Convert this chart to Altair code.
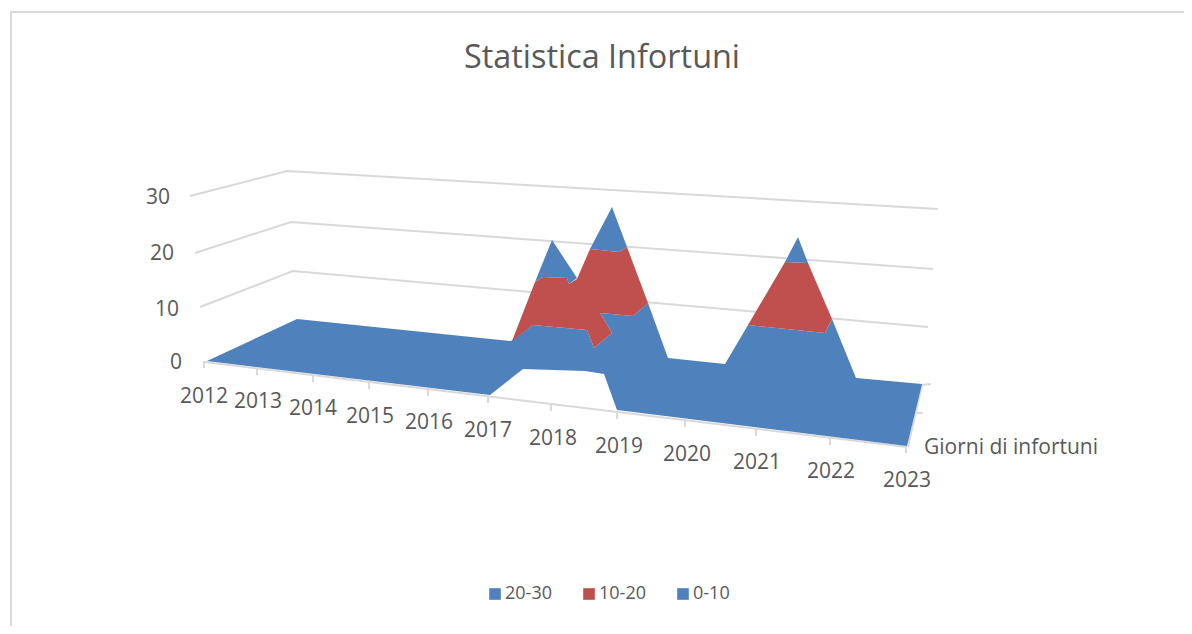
import altair as alt
import pandas as pd

# Outlines of the surface bands (screen-plane coordinates of the 3D view)
blue_low_x = [207, 297, 511, 533, 587, 594, 612, 600, 633, 648, 668, 725, 748, 825, 832, 856, 922, 907, 617, 604, 585, 523, 490]
blue_low_y = [361, 319, 341, 325, 330, 348, 333, 313, 316, 303, 358, 364, 325, 333, 319, 378, 384, 446, 410, 374, 371, 369, 395]
red_a_x = [512, 535, 543, 567, 569, 577, 590, 619, 627, 648, 633, 600, 612, 594, 587, 533]
red_a_y = [341, 282, 277, 278, 284, 279, 249, 252, 247, 303, 316, 313, 333, 348, 330, 325]
red_b_x = [748, 785, 808, 832, 825]
red_b_y = [325, 262, 263, 319, 333]
tip_a_x = [535, 552, 577, 569, 567, 543]
tip_a_y = [282, 240, 278, 284, 278, 277]
tip_b_x = [590, 612, 627, 619]
tip_b_y = [249, 207, 247, 252]
tip_c_x = [785, 798, 808]
tip_c_y = [262, 237, 263]

bands = [("0-10", "a", blue_low_x, blue_low_y), ("10-20", "b", red_a_x, red_a_y),
         ("10-20", "c", red_b_x, red_b_y), ("20-30", "d", tip_a_x, tip_a_y),
         ("20-30", "e", tip_b_x, tip_b_y), ("20-30", "f", tip_c_x, tip_c_y)]
rows = []
for band, shape, xs, ys in bands:
    closed_x, closed_y = xs + xs[:1], ys + ys[:1]
    for i, (px, py) in enumerate(zip(closed_x, closed_y)):
        rows.append(dict(band=band, shape=shape, i=i, x=px, y=py))
surface = pd.DataFrame(rows)

# Grid lines: back wall and side wall, front axis, side axis, ticks
grid_sets = [([190, 287, 938], [196, 171, 209]),
             ([195, 291, 933], [253, 222, 269]),
             ([200, 293, 928], [307, 271, 327]),
             ([204, 907], [362, 447]),
             ([931, 922, 908], [384, 385, 447]),
             ]
tick_x = [204, 257, 313, 369, 428, 488, 551, 617, 685, 756, 830, 906, 917]
tick_y = [361, 369, 376, 383, 390, 396, 404, 411, 420, 429, 438, 446, 413]
tick_x2 = [204, 257, 313, 369, 428, 488, 551, 617, 685, 756, 830, 906, 923]
tick_y2 = [368, 375, 382, 389, 396, 403, 411, 419, 427, 436, 445, 453, 413]
rows = []
for k, (xs, ys) in enumerate(grid_sets):
    for i, (px, py) in enumerate(zip(xs, ys)):
        rows.append(dict(k=k, i=i, x=px, y=py))
grid = pd.DataFrame(rows)
ticks = pd.DataFrame(dict(x=tick_x, y=tick_y, x2=tick_x2, y2=tick_y2))

years = ["2012", "2013", "2014", "2015", "2016", "2017", "2018", "2019", "2020", "2021", "2022", "2023"]
year_x = [204, 258, 313, 370, 429, 488, 553, 619, 687, 757, 831, 907]
year_y = [396, 401, 408, 416, 422, 430, 438, 446, 454, 462, 471, 480]
value_labels = ["30", "20", "10", "0"]
value_x = [158, 162, 167, 176]
value_y = [197, 253, 309, 362]

xs = alt.Scale(domain=[8, 1184], nice=False, zero=False)
ys = alt.Scale(domain=[626, 8], nice=False, zero=False)
X = alt.X("x:Q", scale=xs, axis=None)
Y = alt.Y("y:Q", scale=ys, axis=None)
TEXT = "#595959"
FONT = "Open Sans"

frame = pd.DataFrame(dict(x=[1184, 11, 11], y=[12, 12, 626], i=[0, 1, 2]))
frame_layer = alt.Chart(frame).mark_line(color="#D9D9D9", strokeWidth=2).encode(x=X, y=Y, order="i:Q")

grid_layer = alt.Chart(grid).mark_line(color="#D9D9D9", strokeWidth=2).encode(x=X, y=Y, detail="k:N", order="i:Q")
tick_layer = alt.Chart(ticks).mark_rule(color="#D9D9D9", strokeWidth=2).encode(x=X, y=Y, x2="x2:Q", y2="y2:Q")

surface_layer = alt.Chart(surface).mark_line(strokeWidth=0.5, stroke=None).encode(
    x=X, y=Y, detail="shape:N", order="i:Q",
    fill=alt.Fill("band:N",
                  scale=alt.Scale(domain=["20-30", "10-20", "0-10"], range=["#4F81BD", "#C0504D", "#4F81BD"]),
                  legend=alt.Legend(title=None, orient="none", legendX=478, legendY=577, direction="horizontal",
                                    columns=3, symbolType="square", symbolSize=135, symbolStrokeWidth=0,
                                    labelFont=FONT, labelFontSize=18, labelColor=TEXT,
                                    columnPadding=28, labelOffset=1)),
)


def labels(names, px, py, size):
    df = pd.DataFrame(dict(t=names, x=px, y=py))
    return alt.Chart(df).mark_text(font=FONT, fontSize=size, color=TEXT, baseline="middle", dy=1).encode(x=X, y=Y, text="t:N")


title_layer = labels(["Statistica Infortuni"], [602], [57], 32.4)
series_layer = alt.Chart(pd.DataFrame(dict(t=["Giorni di infortuni"], x=[924], y=[447]))).mark_text(
    font=FONT, fontSize=21, color=TEXT, baseline="middle", align="left", dy=1).encode(x=X, y=Y, text="t:N")

chart = alt.layer(frame_layer, grid_layer, tick_layer, surface_layer,
                  labels(years, year_x, year_y, 21), labels(value_labels, value_x, value_y, 21),
                  series_layer, title_layer).properties(
    width=1176, height=618, padding=0, autosize=alt.AutoSizeParams(type="none")
).configure_view(stroke=None)

chart.save("out.html", embed_options={"renderer": "svg", "actions": False})
